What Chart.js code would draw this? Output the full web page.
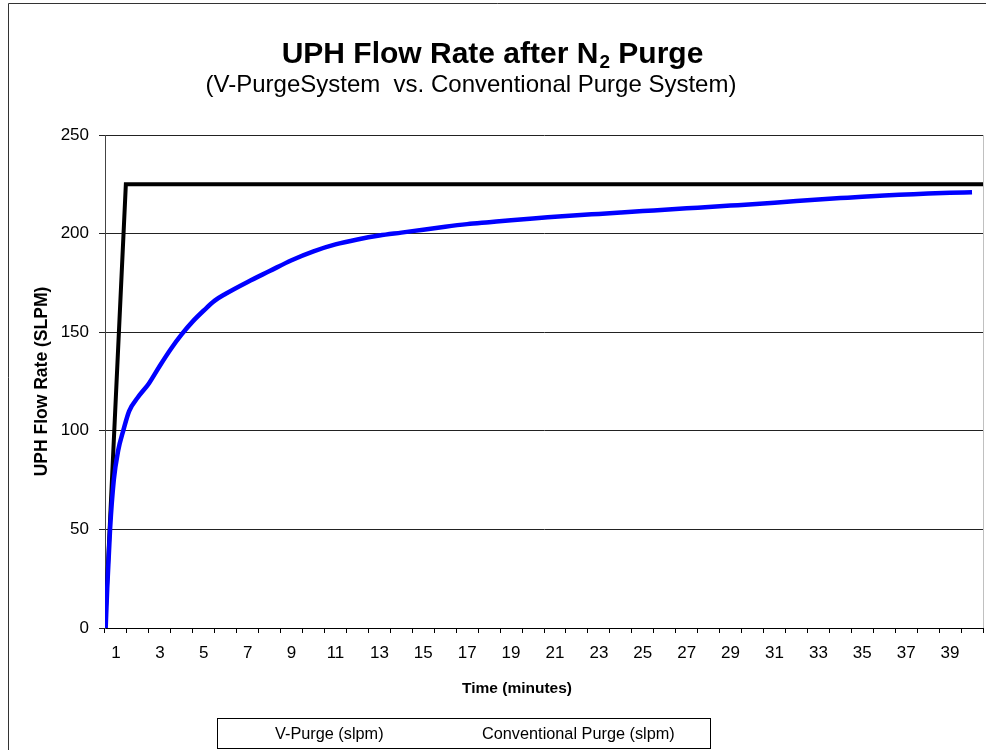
<!DOCTYPE html>
<html>
<head>
<meta charset="utf-8">
<script src="https://cdn.jsdelivr.net/npm/chart.js@4.4.1/dist/chart.umd.min.js"></script>
<style>
  html, body { margin: 0; padding: 0; background: #ffffff; }
  canvas { display: block; }
</style>
</head>
<body>
<canvas id="c" width="986" height="750"></canvas>
<script>
// ---- data ----
const tickLabels = ['1','2','3','4','5','6','7','8','9','10','11','12','13','14','15','16','17','18','19','20',
                    '21','22','23','24','25','26','27','28','29','30','31','32','33','34','35','36','37','38','39','40'];

const vPurgeTime = [0.5, 1.45, 40.5];
const vPurgeFlow = [0, 225, 225];

const convTime = [0.53, 0.6, 0.73, 0.9, 1.1, 1.33, 1.6, 2.0, 2.5, 3.0, 3.5, 4.0, 4.5, 5.0, 5.5, 6.0, 7.0, 8.0, 9.0, 10.0,
                  11, 12, 13, 14, 15, 16, 17, 18, 19, 20, 21, 22, 23, 24, 25, 26, 27, 28, 29, 30,
                  31, 32, 33, 34, 35, 36, 37, 38, 39, 40];
const convFlow = [0, 20, 50, 75, 90, 100, 110, 117, 124, 133, 141.5, 149, 155.5, 161, 166, 169.5, 175.5, 181, 186.5, 191,
                  194.5, 197, 199, 200.5, 202, 203.5, 204.8, 205.8, 206.8, 207.7, 208.5, 209.3, 210, 210.7, 211.4, 212.1, 212.8, 213.5, 214.2, 214.9,
                  215.7, 216.5, 217.3, 218, 218.7, 219.3, 219.8, 220.3, 220.7, 221];

const seriesNames = ['V-Purge (slpm)', 'Conventional Purge (slpm)'];
const titleMain = ['UPH Flow Rate after N', '2', ' Purge'];
const titleSub = '(V-PurgeSystem  vs. Conventional Purge System)';
const xTitle = 'Time (minutes)';
const yTitle = 'UPH Flow Rate (SLPM)';

const FONT = '"Liberation Sans", Arial, sans-serif';

const toPoints = (xs, ys) => xs.map((x, i) => ({ x: x, y: ys[i] }));

const decorPlugin = {
  id: 'decor',
  beforeDraw(chart) {
    const ctx = chart.ctx;
    ctx.save();
    ctx.fillStyle = '#ffffff';
    ctx.fillRect(0, 0, chart.width, chart.height);
    ctx.restore();
  },
  afterDraw(chart) {
    const ctx = chart.ctx;
    const ca = chart.chartArea;
    ctx.save();
    // outer border
    ctx.strokeStyle = '#333333';
    ctx.lineWidth = 1;
    ctx.beginPath();
    ctx.moveTo(8.5, chart.height + 5);
    ctx.lineTo(8.5, 3.5);
    ctx.lineTo(chart.width + 5, 3.5);
    ctx.stroke();
    // plot right edge
    ctx.strokeStyle = '#c0c0c0';
    ctx.beginPath();
    ctx.moveTo(Math.round(ca.right) + 0.5, ca.top);
    ctx.lineTo(Math.round(ca.right) + 0.5, ca.bottom);
    ctx.stroke();

    ctx.fillStyle = '#000000';
    ctx.textBaseline = 'alphabetic';
    // main title with subscript
    const f1 = 'bold 30px ' + FONT;
    const f2 = 'bold 19px ' + FONT;
    ctx.font = f1;
    const w1 = ctx.measureText(titleMain[0]).width;
    const w3 = ctx.measureText(titleMain[2]).width;
    ctx.font = f2;
    const w2 = ctx.measureText(titleMain[1]).width;
    let x = 492 - (w1 + w2 + w3) / 2;
    ctx.textAlign = 'left';
    ctx.font = f1;
    ctx.fillText(titleMain[0], x, 63);
    ctx.font = f2;
    ctx.fillText(titleMain[1], x + w1 + 1, 68);
    ctx.font = f1;
    ctx.fillText(titleMain[2], x + w1 + w2 + 1, 63);

    // subtitle
    ctx.font = '24px ' + FONT;
    ctx.textAlign = 'center';
    ctx.fillText(titleSub, 471, 92);

    // x axis title
    ctx.font = 'bold 15.5px ' + FONT;
    ctx.fillText(xTitle, 517, 693);

    // legend box
    ctx.strokeStyle = '#000000';
    ctx.lineWidth = 1;
    ctx.strokeRect(217.5, 718.5, 493, 30);
    ctx.font = '16.3px ' + FONT;
    ctx.textAlign = 'left';
    ctx.fillText(chart.data.datasets[0].label, 275, 739);
    ctx.fillText(chart.data.datasets[1].label, 482, 739);
    ctx.restore();
  }
};

new Chart(document.getElementById('c'), {
  type: 'line',
  data: {
    labels: tickLabels,
    datasets: [
      {
        label: seriesNames[0],
        data: toPoints(vPurgeTime, vPurgeFlow),
        xAxisID: 'xv',
        borderColor: '#000000',
        borderWidth: 4,
        borderJoinStyle: 'miter',
        pointRadius: 0,
        tension: 0,
        fill: false,
        order: 1
      },
      {
        label: seriesNames[1],
        data: toPoints(convTime, convFlow),
        xAxisID: 'xv',
        borderColor: '#0000ff',
        borderWidth: 4.5,
        pointRadius: 0,
        cubicInterpolationMode: 'monotone',
        fill: false,
        order: 0
      }
    ]
  },
  options: {
    responsive: false,
    animation: false,
    devicePixelRatio: 1,
    layout: { padding: { top: 135, right: 3, bottom: 82, left: 0 } },
    plugins: {
      legend: { display: false },
      title: { display: false },
      tooltip: { enabled: false }
    },
    scales: {
      x: {
        type: 'category',
        position: 'bottom',
        offset: true,
        afterFit(scale) { scale.height = 40; },
        grid: {
          offset: true,
          drawOnChartArea: false,
          drawTicks: true,
          tickLength: 5,
          color: '#000000'
        },
        border: { display: true, color: '#000000', width: 1 },
        ticks: {
          autoSkip: false,
          maxRotation: 0,
          padding: 10,
          color: '#000000',
          font: { family: FONT, size: 17 },
          callback: function (val, i) { return i % 2 === 0 ? this.getLabelForValue(val) : ''; }
        }
      },
      xv: {
        type: 'linear',
        position: 'bottom',
        display: false,
        min: 0.5,
        max: 40.5
      },
      y: {
        type: 'linear',
        position: 'left',
        min: 0,
        max: 250,
        afterFit(scale) { scale.width = 105; },
        grid: {
          color: '#222222',
          drawTicks: true,
          tickLength: 6
        },
        border: { display: true, color: '#444444', width: 1 },
        ticks: {
          stepSize: 50,
          padding: 10,
          color: '#000000',
          font: { family: FONT, size: 17 }
        },
        title: {
          display: true,
          text: yTitle,
          color: '#000000',
          font: { family: FONT, size: 17.5, weight: 'bold' },
          padding: { top: 32, bottom: 0 }
        }
      }
    }
  },
  plugins: [decorPlugin]
});
</script>
</body>
</html>
